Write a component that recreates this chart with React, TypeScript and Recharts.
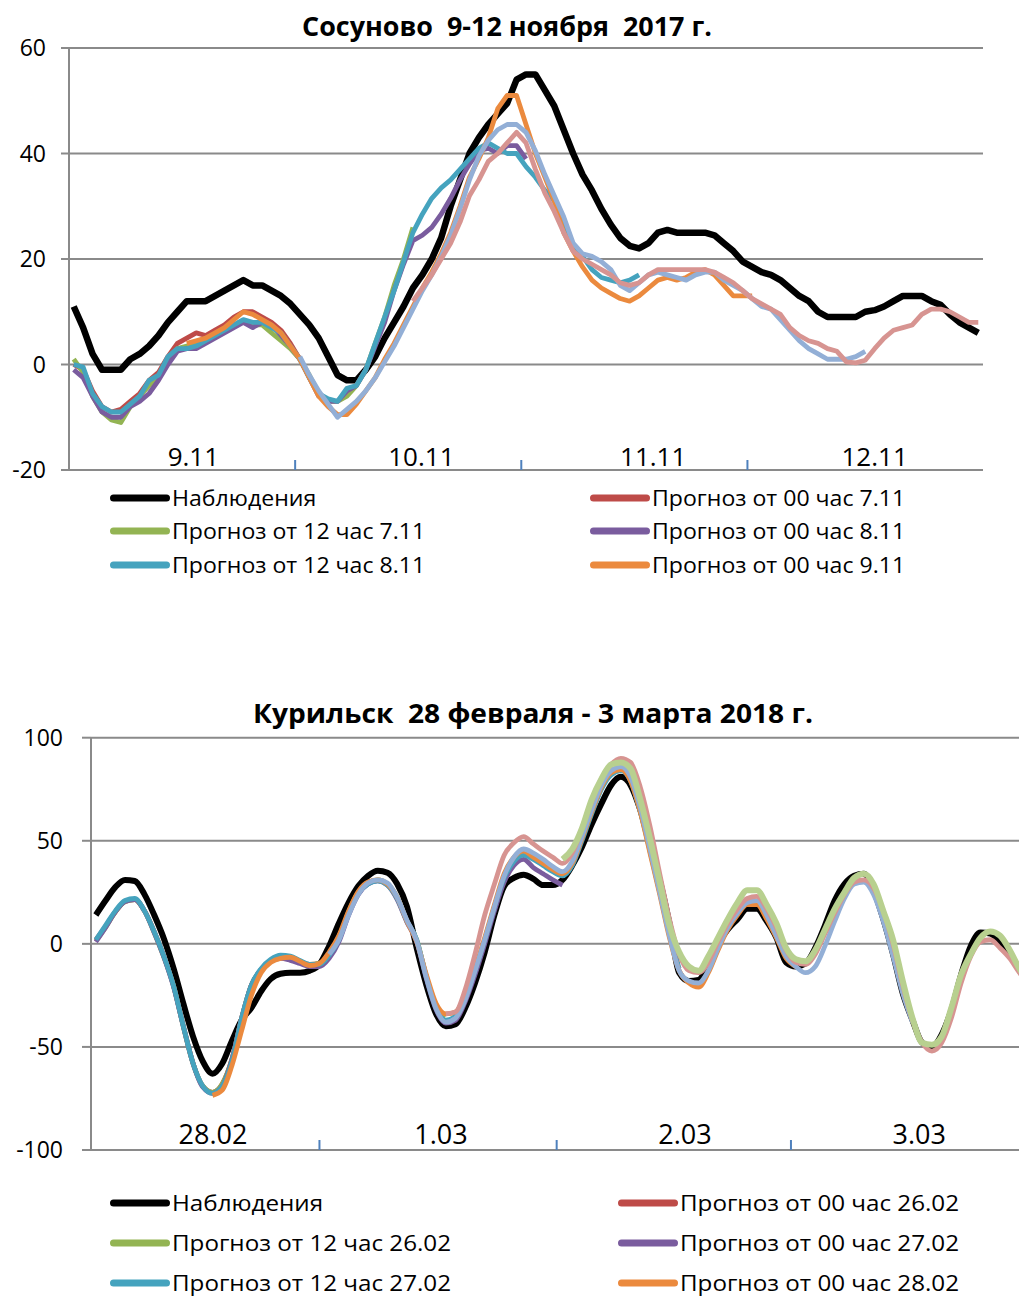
import React from 'react';
import { LineChart, Line, XAxis, YAxis, CartesianGrid } from 'recharts';

const FONT = '"Open Sans", "DejaVu Sans", sans-serif';

// ---------------- TOP CHART DATA (hourly, 9.11 00h .. 13.11 00h) ----------------
const TOP_TITLE = 'Сосуново  9-12 ноября  2017 г.';
const TOP_NAMES = [
  'Наблюдения',
  'Прогноз от 00 час 7.11',
  'Прогноз от 12 час 7.11',
  'Прогноз от 00 час 8.11',
  'Прогноз от 12 час 8.11',
  'Прогноз от 00 час 9.11',
  'Прогноз от 12 час 9.11',
  'Прогноз от 00 час 10.11',
];
const TOP_COLORS = ['#000000', '#BE4B48', '#93B453', '#7A5C9E', '#45A3BE', '#EB8A3E', '#93AFD6', '#D79491'];
const TOP_DAY_LABELS = ['9.11', '10.11', '11.11', '12.11'];
const TOP_DAY_LABEL_POS = [12.7, 36.9, 61.5, 85];
const TOP_DAY_BOUNDS = [23.5, 47.5, 71.5];
const TOP_Y_TICKS = [-20, 0, 20, 40, 60];

const TOP_OBS = [
  11, 7, 2, -1, -1, -1, 1, 2, 3.5, 5.5,
  8, 10, 12, 12, 12, 13, 14, 15, 16, 15,
  15, 14, 13, 11.5, 9.5, 7.5, 5, 1.5, -2, -3,
  -3, -1, 1.5, 5, 8, 11, 14.5, 17, 20, 24,
  30, 35, 40, 43, 45.5, 47.5, 49.5, 54, 55, 55,
  52, 49, 44.5, 40, 36, 33, 29.5, 26.5, 24, 22.5,
  22, 23, 25, 25.5, 25, 25, 25, 25, 24.5, 23,
  21.5, 19.5, 18.5, 17.5, 17, 16, 14.5, 13, 12, 10,
  9, 9, 9, 9, 10, 10.3, 11, 12, 13, 13,
  13, 12, 11.3, 9.5, 8, 7, 6,
];
const TOP_RED_START = 0;
const TOP_RED = [0, -1, -5, -8, -9, -8.5, -7, -5.5, -3, -1.5, 1.5, 4, 5, 6, 5.5, 6.5, 7.5, 9, 10, 10, 9, 8, 6.5, 4, 1];
const TOP_GREEN_START = 0;
const TOP_GREEN = [
  1, -1.5, -6, -9, -10.5, -11, -8, -6, -4, -2.5,
  1, 3, 3.5, 4, 4.5, 5.5, 6.5, 7.5, 8, 7.5,
  7.5, 6, 4.5, 3, 1, -2, -5.5, -7, -7, -6,
  -4, -1, 4, 9, 15, 20, 26,
];
const TOP_PURPLE_START = 0;
const TOP_PURPLE = [
  -1, -2.5, -6, -9, -10, -10, -8, -7, -5.5, -3,
  0, 2.5, 3, 3, 4, 5, 6, 7, 8, 7,
  8, 7.5, 5.5, 3.5, 1, -2.5, -6, -7, -7, -5,
  -4, -1, 3.5, 8, 14, 19, 23.5, 24.5, 26, 28.5,
  31.5, 35, 38, 40.5, 41, 40, 41.5, 41.5, 39,
];
const TOP_AQUA_START = 0;
const TOP_AQUA = [
  0, -0.5, -5.5, -8, -9, -9, -7.5, -6, -3, -2,
  1.5, 3, 3, 3.5, 4.5, 5.5, 6.5, 7.5, 8.5, 8,
  8, 7, 6, 3.5, 1, -2.5, -5.5, -6.5, -7, -4.5,
  -4, -1, 4, 9, 14, 19.5, 25, 28.5, 31.5, 33.5,
  35, 37, 39, 41, 42, 41, 40, 40, 37.5, 35.5,
  33, 31, 27, 22.5, 20.5, 18, 16.5, 16, 15.5, 16,
  17,
];
const TOP_ORANGE_START = 12;
const TOP_ORANGE = [
  4, 4.5, 5, 6, 7, 8.5, 10, 9.5, 8.5, 7.5,
  6, 3.5, 1, -2.5, -6, -8, -9.5, -9.5, -7.5, -5,
  -2.5, 1, 4, 7.5, 11, 14.5, 17.5, 21, 25, 30,
  35.5, 39, 43, 48.5, 51, 51, 45.5, 40, 35.5, 31,
  25, 21.5, 18.5, 16, 14.5, 13.5, 12.5, 12, 13, 14.5,
  16, 16.5, 16, 16.5, 17.5, 18, 17, 15, 13, 13, 13,
];
const TOP_LBLUE_START = 24;
const TOP_LBLUE = [
  1.5, -2, -5, -7.5, -10, -8.5, -7, -5, -2.5, 0.5,
  3.5, 7, 10.5, 14, 17, 20.5, 24.5, 29.5, 35, 39.5,
  42.5, 44.5, 45.5, 45.5, 44, 40.5, 36, 32, 28, 23,
  21, 20.5, 19.5, 18, 15, 14, 15.5, 17, 17.5, 17,
  16.5, 16, 17, 17.5, 17.5, 16, 15, 14, 12.5, 11,
  10.5, 8.5, 6.5, 4.5, 3, 2, 1, 1, 1, 1.5, 2.5,
];
const TOP_PINK_START = 36;
const TOP_PINK = [
  12, 14.5, 17, 20, 23, 27, 32, 35, 38.5, 40,
  42, 44, 42, 37, 32.5, 29, 25, 21.5, 20, 19,
  18, 17, 15.5, 15, 15.5, 17, 18, 18, 18, 18,
  18, 18, 17.5, 16.5, 15.5, 14, 12.5, 11.5, 10.5, 9.5,
  7, 5.5, 4.5, 4, 3, 2.5, 0.5, 0.3, 0.8, 3,
  5, 6.5, 7, 7.5, 9.5, 10.5, 10.5, 10, 9, 8, 8,
];

// ---------------- BOTTOM CHART DATA (hourly, 28.02 00h ..) ----------------
const BOT_TITLE = 'Курильск  28 февраля - 3 марта 2018 г.';
const BOT_NAMES = [
  'Наблюдения',
  'Прогноз от 00 час 26.02',
  'Прогноз от 12 час 26.02',
  'Прогноз от 00 час 27.02',
  'Прогноз от 12 час 27.02',
  'Прогноз от 00 час 28.02',
  'Прогноз от 12 час 28.02',
  'Прогноз от 00 час 1.03',
  'Прогноз от 12 час 1.03',
];
const BOT_COLORS = ['#000000', '#BE4B48', '#93B453', '#7A5C9E', '#45A3BE', '#EB8A3E', '#93AFD6', '#D79491', '#B8D08F'];
const BOT_DAY_LABELS = ['28.02', '1.03', '2.03', '3.03'];
const BOT_DAY_LABEL_POS = [12.05, 35.5, 60.6, 84.7];
const BOT_DAY_BOUNDS = [23, 47.4, 71.5];
const BOT_Y_TICKS = [-100, -50, 0, 50, 100];

const BOT_OBS = [
  14, 21, 27.5, 31, 30.5, 24, 14, 2.5, -12, -29,
  -45, -57, -63, -58, -47, -37, -31, -23, -17, -14.5,
  -14, -14, -13, -10, -1, 10, 20, 28, 33, 35.5,
  34.5, 29, 18, -2, -20, -34, -40, -39, -31, -19,
  -4, 14, 28, 32, 33.5, 31.5, 28.5, 28.5, 31, 38,
  47, 58, 68, 77, 81, 77, 65, 48, 31, 10,
  -14, -18, -17.5, -10, 0, 7, 12, 17, 17, 11,
  3, -9, -11, -9.5, -2, 9, 21, 29, 33, 34,
  26, 12, -5, -24, -37, -48, -50, -44, -32, -15,
  -1, 5.5, 5, 1, -4.5, -12.6, -20,
];
const BOT_RED_START = 0;
const BOT_RED = [2, 8.5, 15.5, 20.5, 21.5, 16, 6, -6, -20.5, -40, -58, -69, -72, -68, -56, -36, -20, -12.5, -8, -6.5, -7, -8.5, -10, -9.5, -5];
const BOT_GREEN_START = 0;
const BOT_GREEN = [
  1.5, 8, 15.5, 20.5, 21.5, 16, 5.5, -6.5, -20.5, -40,
  -58, -69, -72, -68, -56, -36, -20, -12.5, -8, -6,
  -6.5, -8.5, -10, -9.5, -5, 2.5, 15.5, 25, 29.5, 31,
  29, 22.5, 11, 2, -16, -30, -35,
];
const BOT_PURPLE_START = 0;
const BOT_PURPLE = [
  1, 8, 15.5, 20.5, 21.5, 16, 5.5, -6.5, -21, -40,
  -58, -69.5, -72.5, -69, -56, -36, -20, -12.5, -8.5, -7,
  -8, -9.5, -11, -11, -7, 1, 14, 24, 29, 30.5,
  28.5, 21.5, 10.5, 1, -17, -32, -38.5, -37, -28, -15,
  0, 16, 30, 38, 41, 37, 34, 31, 28.5,
];
const BOT_AQUA_START = 0;
const BOT_AQUA = [
  2, 9, 16, 21, 22, 16, 6, -6, -20.5, -40,
  -58, -69, -72.5, -69, -57, -36, -20, -12, -7.5, -5.5,
  -6, -8, -10, -10, -5.5, 2, 15, 24.5, 29, 30.5,
  28.5, 22, 11, 2, -16, -31, -37, -35, -26, -13,
  2, 18, 32, 40, 43, 41, 38, 35, 33, 38,
  50, 63, 75, 82, 84, 79, 64, 45, 25, 5,
  -12,
];
const BOT_ORANGE_START = 12;
const BOT_ORANGE = [
  -73.5, -71, -59, -42, -25, -14, -9, -7, -6.5, -8.5,
  -10.5, -9.5, -4, 4, 16, 25.5, 30, 31, 29, 22.5,
  11, 1, -15, -29, -34, -33, -25, -12, 3, 19,
  34, 42, 45, 42, 39, 36, 34, 39, 51, 64,
  76, 83, 84.5, 79, 64, 44, 24, 3, -13, -19,
  -21, -14, -3, 7, 14, 19, 19, 12, 3, -7, -11,
];
const BOT_LBLUE_START = 24;
const BOT_LBLUE = [
  -5, 2, 14, 24, 29.5, 31, 29.5, 22.5, 11.5, 1.5,
  -16.5, -31.5, -38, -36, -27, -13, 2, 18, 33, 42,
  46, 44, 41, 37.5, 35, 40, 52, 65, 77, 84,
  86, 81, 66, 46, 25, 4, -13, -18, -19, -13,
  -2, 8, 15, 20, 21, 14, 4, -6, -11, -14,
  -11, -1, 11, 22, 29, 30, 24, 11, -6, -24, -38,
];
const BOT_PINK_START = 36;
const BOT_PINK = [
  -34, -33, -22, -5, 14, 29, 43, 49, 52, 48.5,
  45, 42, 39, 44, 56, 69, 80, 87, 90, 88,
  76, 57, 34, 12, -5, -13, -14, -9, 1, 10,
  17, 22, 23, 17, 8, -3, -9, -10, -5, 5,
  15, 24, 30, 31, 27, 16, 0, -20, -37, -48,
  -52, -48, -36, -19, -6, 1, 2, -2, -7, -14, -20,
];
const BOT_LGREEN_START = 48;
const BOT_LGREEN = [
  41, 46, 56, 70, 80, 87, 88, 85, 70, 51,
  30, 9, -4, -11, -13, -6, 3, 12, 20, 26,
  26, 19, 10, -2, -7.5, -8.5, -3, 7, 17, 25,
  32, 34, 29, 16, 2, -18, -36, -48, -49, -45,
  -31, -15, -5, 3, 6, 4, -3, -12, -19,
];

// ---------------- helpers ----------------
type Series = { key: string; start: number; values: number[] };

function buildRows(n: number, obs: number[], series: Series[]) {
  const rows: any[] = [];
  for (let i = 0; i < n; i++) {
    const row: any = { i, obs: i < obs.length ? obs[i] : null };
    for (const s of series) {
      const k = i - s.start;
      row[s.key] = k >= 0 && k < s.values.length ? s.values[k] : null;
    }
    rows.push(row);
  }
  return rows;
}

const TOP_SERIES: Series[] = [
  { key: 's1', start: TOP_RED_START, values: TOP_RED },
  { key: 's2', start: TOP_GREEN_START, values: TOP_GREEN },
  { key: 's3', start: TOP_PURPLE_START, values: TOP_PURPLE },
  { key: 's4', start: TOP_AQUA_START, values: TOP_AQUA },
  { key: 's5', start: TOP_ORANGE_START, values: TOP_ORANGE },
  { key: 's6', start: TOP_LBLUE_START, values: TOP_LBLUE },
  { key: 's7', start: TOP_PINK_START, values: TOP_PINK },
];
const BOT_SERIES: Series[] = [
  { key: 's1', start: BOT_RED_START, values: BOT_RED },
  { key: 's2', start: BOT_GREEN_START, values: BOT_GREEN },
  { key: 's3', start: BOT_PURPLE_START, values: BOT_PURPLE },
  { key: 's4', start: BOT_AQUA_START, values: BOT_AQUA },
  { key: 's5', start: BOT_ORANGE_START, values: BOT_ORANGE },
  { key: 's6', start: BOT_LBLUE_START, values: BOT_LBLUE },
  { key: 's7', start: BOT_PINK_START, values: BOT_PINK },
  { key: 's8', start: BOT_LGREEN_START, values: BOT_LGREEN },
];

const TOP_ROWS = buildRows(TOP_OBS.length, TOP_OBS, TOP_SERIES);
const BOT_ROWS = buildRows(BOT_OBS.length, BOT_OBS, BOT_SERIES);

const GRID = '#8a8a8a';

function makeDayTick(labelPos: number[], labels: string[], fontSize: number, tickLen: number, baseOff: number) {
  return (props: any) => {
    const { x, y, payload } = props;
    const v = payload && payload.value;
    const li = labelPos.indexOf(v);
    if (li >= 0) {
      return (
        <text x={x} y={y - baseOff} textAnchor="middle" fontSize={fontSize} fontFamily={FONT} fill="#000">
          {labels[li]}
        </text>
      );
    }
    return <line x1={x} x2={x} y1={y - tickLen} y2={y} stroke="#4F81BD" strokeWidth={2} />;
  };
}

function LegendBlock(props: { names: string[]; colors: string[]; rows: number[]; leftX: number; rightX: number; scale: number }) {
  const { names, colors, rows, leftX, rightX, scale } = props;
  return (
    <g>
      {names.slice(0, 6).map((n, k) => {
        const cy = rows[Math.floor(k / 2)];
        const mx = k % 2 === 0 ? leftX : rightX;
        return (
          <g key={k}>
            <line x1={mx + 3.5} x2={mx + 56.5} y1={cy} y2={cy} stroke={colors[k]} strokeWidth={7} strokeLinecap="round" />
            <text transform={`translate(${mx + 62},${cy + 7.5}) scale(${scale},1)`} fontSize={22} fontFamily={FONT} fill="#000">
              {n}
            </text>
          </g>
        );
      })}
    </g>
  );
}

export default function App() {
  const topTick = makeDayTick(TOP_DAY_LABEL_POS, TOP_DAY_LABELS, 26, 10, 4);
  const botTick = makeDayTick(BOT_DAY_LABEL_POS, BOT_DAY_LABELS, 27, 10, 6);
  return (
    <div style={{ position: 'relative', width: 1019, height: 1297, overflow: 'hidden', background: '#fff' }}>
      <style>{'html,body{margin:0;padding:0;overflow:hidden;background:#fff}'}</style>

      <div style={{ position: 'absolute', left: 0, top: 0 }}>
        <LineChart width={1019} height={600} data={TOP_ROWS} margin={{ top: 48, right: 36, bottom: 100, left: 0 }}>
          <CartesianGrid vertical={false} stroke={GRID} strokeWidth={2} />
          <XAxis
            type="number"
            dataKey="i"
            domain={[-0.5, 96.5]}
            allowDataOverflow
            ticks={[...TOP_DAY_BOUNDS, ...TOP_DAY_LABEL_POS]}
            interval={0}
            tick={topTick}
            tickLine={false}
            tickSize={0}
            tickMargin={0}
            height={30}
            axisLine={{ stroke: GRID, strokeWidth: 2 }}
          />
          <YAxis
            type="number"
            domain={[-20, 60]}
            ticks={TOP_Y_TICKS}
            interval={0}
            width={69}
            tickSize={8}
            tickMargin={15}
            tickLine={{ stroke: GRID, strokeWidth: 2 }}
            axisLine={{ stroke: GRID, strokeWidth: 2 }}
            tick={{ fill: '#000', fontSize: 23, fontFamily: FONT }}
          />
          <Line type="linear" dataKey="obs" stroke={TOP_COLORS[0]} strokeWidth={6.5} dot={false} activeDot={false} isAnimationActive={false} strokeLinejoin="round" />
          {TOP_SERIES.map((s, k) => (
            <Line key={s.key} type="linear" dataKey={s.key} stroke={TOP_COLORS[k + 1]} strokeWidth={4.8} dot={false} activeDot={false} isAnimationActive={false} strokeLinejoin="round" />
          ))}
        </LineChart>
      </div>

      <div style={{ position: 'absolute', left: 0, top: 640, width: 1019, overflow: 'hidden' }}>
        <LineChart width={1040} height={560} data={BOT_ROWS} margin={{ top: 97.7, right: 6, bottom: 20, left: 0 }}>
          <CartesianGrid vertical={false} stroke={GRID} strokeWidth={2} />
          <XAxis
            type="number"
            dataKey="i"
            domain={[-0.5, 96.5]}
            allowDataOverflow
            ticks={[...BOT_DAY_BOUNDS, ...BOT_DAY_LABEL_POS]}
            interval={0}
            tick={botTick}
            tickLine={false}
            tickSize={0}
            tickMargin={0}
            height={30}
            axisLine={{ stroke: GRID, strokeWidth: 2 }}
          />
          <YAxis
            type="number"
            domain={[-100, 100]}
            ticks={BOT_Y_TICKS}
            interval={0}
            width={91}
            tickSize={9}
            tickMargin={19}
            tickLine={{ stroke: GRID, strokeWidth: 2 }}
            axisLine={{ stroke: GRID, strokeWidth: 2 }}
            tick={{ fill: '#000', fontSize: 23, fontFamily: FONT }}
          />
          <Line type="monotone" dataKey="obs" stroke={BOT_COLORS[0]} strokeWidth={6} dot={false} activeDot={false} isAnimationActive={false} strokeLinejoin="round" />
          {BOT_SERIES.map((s, k) => (
            <Line key={s.key} type="monotone" dataKey={s.key} stroke={BOT_COLORS[k + 1]} strokeWidth={k === 7 ? 6 : 4.8} dot={false} activeDot={false} isAnimationActive={false} strokeLinejoin="round" />
          ))}
        </LineChart>
      </div>

      <svg width={1019} height={1297} style={{ position: 'absolute', left: 0, top: 0, pointerEvents: 'none' }}>
        <text x={507} y={36} textAnchor="middle" fontSize={27} fontWeight="bold" fontFamily={FONT} fill="#000" textLength={410} lengthAdjust="spacingAndGlyphs" style={{ whiteSpace: 'pre' }}>
          {TOP_TITLE}
        </text>
        <text x={533} y={723} textAnchor="middle" fontSize={27} fontWeight="bold" fontFamily={FONT} fill="#000" textLength={560} lengthAdjust="spacingAndGlyphs" style={{ whiteSpace: 'pre' }}>
          {BOT_TITLE}
        </text>
        <LegendBlock names={TOP_NAMES} colors={TOP_COLORS} rows={[498, 531, 565]} leftX={110} rightX={590} scale={1.05} />
        <LegendBlock names={BOT_NAMES} colors={BOT_COLORS} rows={[1203, 1243, 1283]} leftX={110} rightX={618} scale={1.1} />
      </svg>
    </div>
  );
}
